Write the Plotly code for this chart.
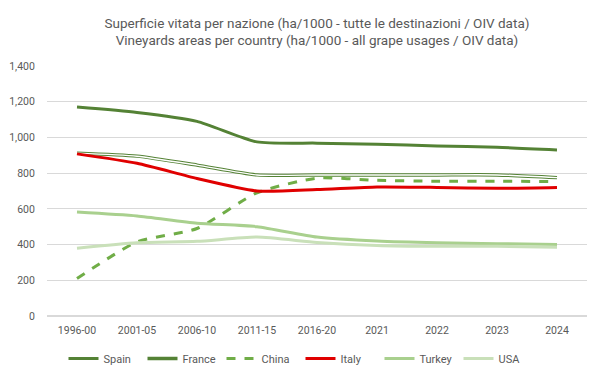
import plotly.graph_objects as go

categories = ["1996-00", "2001-05", "2006-10", "2011-15", "2016-20", "2021", "2022", "2023", "2024"]
spain = [1170, 1140, 1090, 975, 968, 962, 952, 945, 930]
france = [912, 895, 845, 790, 790, 790, 790, 790, 775]
china = [210, 415, 490, 690, 772, 760, 755, 755, 752]
italy = [908, 855, 770, 700, 708, 722, 720, 715, 720]
turkey = [582, 560, 520, 500, 442, 420, 410, 405, 400]
usa = [380, 410, 418, 442, 412, 395, 390, 390, 385]
y_ticks = [0, 200, 400, 600, 800, 1000, 1200, 1400]
y_tick_labels = ["0", "200", "400", "600", "800", "1,000", "1,200", "1,400"]

sm = 0.6
fig = go.Figure()
fig.add_trace(go.Scatter(x=categories, y=spain, name="Spain", mode="lines",
                         line=dict(color="#548235", width=3, shape="spline", smoothing=sm)))
fig.add_trace(go.Scatter(x=categories, y=france, name="France", mode="lines", legendgroup="fr",
                         line=dict(color="#548235", width=3.4, shape="spline", smoothing=sm)))
fig.add_trace(go.Scatter(x=categories, y=france, name="France", mode="lines", legendgroup="fr",
                         showlegend=False, hoverinfo="skip",
                         line=dict(color="#ffffff", width=1.4, shape="spline", smoothing=sm)))
fig.add_trace(go.Scatter(x=categories, y=china, name="China", mode="lines",
                         line=dict(color="#70AD47", width=3, dash="dash", shape="spline", smoothing=sm)))
fig.add_trace(go.Scatter(x=categories, y=italy, name="Italy", mode="lines",
                         line=dict(color="#E00000", width=3, shape="spline", smoothing=sm)))
fig.add_trace(go.Scatter(x=categories, y=turkey, name="Turkey", mode="lines",
                         line=dict(color="#A9D08E", width=3, shape="spline", smoothing=sm)))
fig.add_trace(go.Scatter(x=categories, y=usa, name="USA", mode="lines",
                         line=dict(color="#C9E0B9", width=3, shape="spline", smoothing=sm)))

fig.update_layout(
    width=601, height=378,
    margin=dict(l=47, r=14, t=66, b=62, autoexpand=False),
    paper_bgcolor="white", plot_bgcolor="white",
    font=dict(family="Roboto, sans-serif", color="#595959", size=11),
    title=dict(text="Superficie vitata per nazione (ha/1000 - tutte le destinazioni / OIV data)<br>Vineyards areas per country (ha/1000 - all grape usages / OIV data)",
               x=0.5, xanchor="center", xref="paper", yref="container", y=0.927, yanchor="top",
               font=dict(size=13.5, color="#595959")),
    xaxis=dict(type="category", range=[-0.5, 8.5], showgrid=False, showline=False,
               ticks="outside", ticklen=4, tickcolor="rgba(0,0,0,0)",
               tickfont=dict(size=10.5, color="#595959")),
    yaxis=dict(range=[0, 1400], tickvals=y_ticks, ticktext=y_tick_labels,
               gridcolor="#d9d9d9", gridwidth=1, zeroline=True, zerolinecolor="#d9d9d9",
               showline=False, ticks="outside", ticklen=9, tickcolor="rgba(0,0,0,0)",
               tickfont=dict(size=10.5, color="#595959")),
    legend=dict(orientation="h", x=0.5, xanchor="center", xref="container",
                yref="container", y=0.090, yanchor="top",
                entrywidth=34, entrywidthmode="pixels",
                font=dict(size=11, color="#595959"), tracegroupgap=0),
    showlegend=True,
)

fig.write_html("out.html", config={"displayModeBar": False},
               post_script="document.body.style.margin='0';document.body.style.overflow='hidden';")
